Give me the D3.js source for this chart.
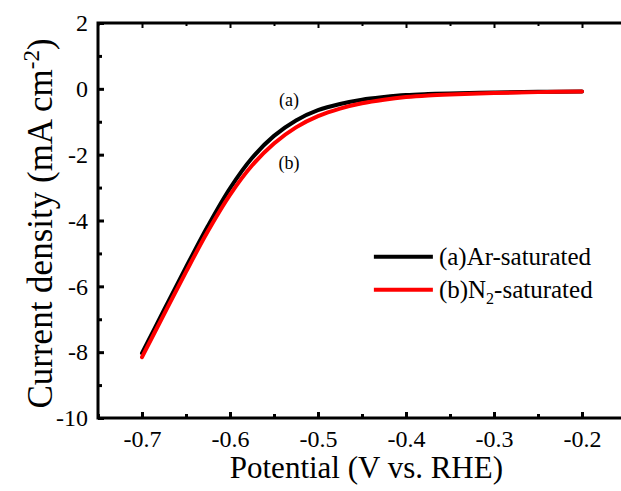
<!DOCTYPE html>
<html>
<head>
<meta charset="utf-8">
<script src="https://cdn.jsdelivr.net/npm/d3@7"></script>
<style>
  body { margin: 0; background: #fff; }
  svg { display: block; font-family: "Liberation Serif", "Times New Roman", serif; }
  .axis path, .axis line { stroke: #000; }
  .axis text { font-family: "Liberation Serif", serif; fill: #000; }
</style>
</head>
<body>
<svg id="chart" width="621" height="491"></svg>
<script>
// LSV data
const potential = [-0.70, -0.675, -0.65, -0.625, -0.60, -0.575, -0.55, -0.525, -0.50, -0.475, -0.45, -0.425, -0.40, -0.375, -0.35, -0.30, -0.25, -0.20];
const arSaturated = [-8.03, -6.72, -5.42, -4.16, -3.02, -2.1, -1.43, -0.96, -0.65, -0.46, -0.33, -0.25, -0.19, -0.16, -0.14, -0.11, -0.09, -0.08];
const n2Saturated = [-8.15, -6.85, -5.56, -4.32, -3.22, -2.33, -1.66, -1.17, -0.83, -0.6, -0.44, -0.33, -0.25, -0.20, -0.17, -0.13, -0.10, -0.08];

const xTicks = [-0.7, -0.6, -0.5, -0.4, -0.3, -0.2];
const xMinor = [-0.75, -0.65, -0.55, -0.45, -0.35, -0.25, -0.15];
const yTicks = [2, 0, -2, -4, -6, -8, -10];
const yMinor = [1, -1, -3, -5, -7, -9];

const seriesNames = ["(a)Ar-saturated", "(b)N2-saturated"];
const seriesColors = ["#000000", "#ff0000"];

const margin = { top: 23, left: 98, right: -5, bottom: 73 };
const width = 621 - margin.left - margin.right;
const height = 491 - margin.top - margin.bottom;

// plain hyphen for negatives, like the original
const hyph = f => d => f(d).replace("\u2212", "-");

const svg = d3.select("#chart");
const g = svg.append("g")
  .attr("transform", `translate(${margin.left}, ${margin.top})`);

const x = d3.scaleLinear().domain([-0.75, -0.15]).range([0, width]);
const y = d3.scaleLinear().domain([-10, 2]).range([height, 0]);

// frame
g.append("rect")
  .attr("width", width)
  .attr("height", height)
  .attr("fill", "none")
  .attr("stroke", "#000")
  .attr("stroke-width", 3);

// bottom axis
const xAxis = g.append("g")
  .attr("class", "axis")
  .attr("transform", `translate(0, ${height})`)
  .call(d3.axisBottom(x).tickValues(xTicks).tickSize(-6).tickPadding(12)
    .tickFormat(hyph(d3.format(".1f"))));
xAxis.select(".domain").remove();
xAxis.selectAll("line").attr("stroke-width", 3);
xAxis.selectAll("text").attr("font-size", 24).attr("dy", "0.71em");

g.append("g")
  .attr("class", "axis")
  .attr("transform", `translate(0, ${height})`)
  .call(d3.axisBottom(x).tickValues(xMinor).tickSize(-4).tickFormat(""))
  .call(a => a.select(".domain").remove())
  .selectAll("line").attr("stroke-width", 3);

// top axis ticks
g.append("g")
  .attr("class", "axis")
  .call(d3.axisTop(x).tickValues(xTicks).tickSize(-5).tickFormat(""))
  .call(a => a.select(".domain").remove())
  .selectAll("line").attr("stroke-width", 2);
g.append("g")
  .attr("class", "axis")
  .call(d3.axisTop(x).tickValues(xMinor).tickSize(-3).tickFormat(""))
  .call(a => a.select(".domain").remove())
  .selectAll("line").attr("stroke-width", 2);

// left axis
const yAxis = g.append("g")
  .attr("class", "axis")
  .call(d3.axisLeft(y).tickValues(yTicks).tickSize(-6).tickPadding(10)
    .tickFormat(hyph(d3.format("d"))));
yAxis.select(".domain").remove();
yAxis.selectAll("line").attr("stroke-width", 3);
yAxis.selectAll("text").attr("font-size", 24);

g.append("g")
  .attr("class", "axis")
  .call(d3.axisLeft(y).tickValues(yMinor).tickSize(-4).tickFormat(""))
  .call(a => a.select(".domain").remove())
  .selectAll("line").attr("stroke-width", 3);

// curves
const line = d3.line()
  .x(d => x(d[0]))
  .y(d => y(d[1]))
  .curve(d3.curveCatmullRom.alpha(0.5));

[arSaturated, n2Saturated].forEach((vals, i) => {
  g.append("path")
    .datum(potential.map((p, j) => [p, vals[j]]))
    .attr("d", line)
    .attr("fill", "none")
    .attr("stroke", seriesColors[i])
    .attr("stroke-width", 4)
    .attr("stroke-linecap", "round");
});

// curve labels
g.append("text")
  .attr("x", x(-0.533))
  .attr("y", y(-0.53))
  .attr("text-anchor", "middle")
  .attr("font-size", 18)
  .text("(a)");
g.append("text")
  .attr("x", x(-0.533))
  .attr("y", y(-2.45))
  .attr("text-anchor", "middle")
  .attr("font-size", 18)
  .text("(b)");

// legend
const legend = g.append("g")
  .attr("transform", `translate(${x(-0.4365)}, ${y(-5.1)})`);

seriesNames.forEach((name, i) => {
  const row = legend.append("g").attr("transform", `translate(0, ${i * 33})`);
  row.append("line")
    .attr("x1", 0).attr("x2", 59)
    .attr("y1", 0).attr("y2", 0)
    .attr("stroke", seriesColors[i])
    .attr("stroke-width", 4);
  const t = row.append("text")
    .attr("x", 65)
    .attr("y", 8)
    .attr("font-size", 25);
  if (name.indexOf("N2") >= 0) {
    t.append("tspan").text("(b)N");
    t.append("tspan").attr("font-size", 16).attr("dy", 6).text("2");
    t.append("tspan").attr("dy", -6).text("-saturated");
  } else {
    t.text(name);
  }
});

// axis titles
svg.append("text")
  .attr("x", margin.left + x(-0.445))
  .attr("y", 478)
  .attr("text-anchor", "middle")
  .attr("font-size", 31)
  .text("Potential (V vs. RHE)");

const yTitle = svg.append("text")
  .attr("transform", `translate(52, ${margin.top + y(-4) + 3}) rotate(-90)`)
  .attr("text-anchor", "middle")
  .attr("font-size", 35);
yTitle.append("tspan").text("Current density (mA cm");
yTitle.append("tspan").attr("font-size", 23).attr("dy", -13).text("-2");
yTitle.append("tspan").attr("dy", 13).text(")");
</script>
</body>
</html>
